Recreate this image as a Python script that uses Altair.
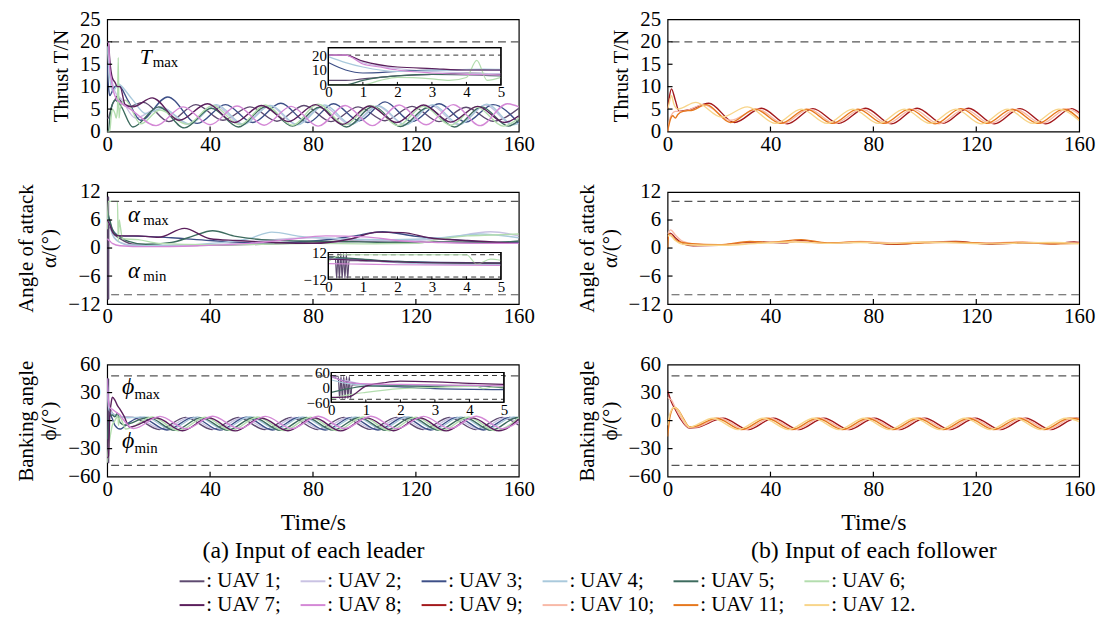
import altair as alt
import pandas as pd

FONT = "Liberation Serif, Times New Roman, Times, serif"
W, H = 415, 113

UAVS = [f"UAV {i}" for i in range(1, 13)]
COLORS = ["#5e4a70", "#c9c2e3", "#3d4f87", "#a9c9dc", "#3d6b5e", "#b3ddae",
          "#5b1f5c", "#d488d6", "#a3191c", "#f8b9a7", "#e6781e", "#f8d58a"]

# ---------------- Leaders: thrust T (N) ----------------
L_T1 = [(0,3),(0.5,3),(1,4),(2,6),(3,7),(4,8),(5,7),(8,5.5),(14,6.5),(24,2.2),(34.5,6),(45,2.5),(55.5,5.5),(66,2.3),(76.5,5.8),(87,2.2),(97.5,5.5),(108,2.4),(118.5,5.6),(129,2.2),(139.5,5.4),(150,2.3),(160,5.2)]
L_T2 = [(0,20),(0.5,20),(1,15),(2,11),(3,9),(4,8),(5,7.5),(11,3),(21,5.5),(31.5,1.6),(42,5.8),(52.5,1.5),(63,5.8),(73.5,1.6),(84,5.6),(94.5,1.5),(105,5.7),(115.5,1.6),(126,5.8),(136.5,1.5),(147,5.9),(157.5,1.6),(160,2.0)]
L_T3 = [(0,15),(0.5,10),(1,8),(2,9),(3,10),(4,10.2),(5,10),(8,7),(13,2.5),(23.5,7.7),(35,1.8),(46,6),(56.5,2),(67.5,6.3),(78,2),(88,6.2),(98,2.4),(108,6.6),(118.5,2.2),(129,6.2),(139.5,2.1),(150,6),(160,1.8)]
L_T4 = [(0,19),(0.5,15),(1,12),(2,9),(3,9.5),(4.5,10.6),(5,10.4),(10,7),(15,4),(21.5,5.2),(32,1.7),(42.5,6),(53,1.6),(63.5,5.8),(74,1.5),(84.5,5.9),(95,1.6),(105.5,5.7),(116,1.5),(126.5,6),(137,1.6),(147.5,6.1),(158,1.5),(160,1.8)]
L_T5 = [(0,0),(0.5,0),(1,3),(1.5,5),(2,6),(3,7),(5,6),(10,1),(20,5.5),(30,0.8),(40.5,5.2),(51,1),(61.5,5.5),(72,1.2),(82.5,5.4),(93,1),(103.5,5.6),(114,1.1),(124.5,5.3),(135,1),(145.5,5.5),(156,1.2),(160,2.5)]
L_T6 = [(0,0),(1,0),(1.5,3),(2,5),(3,4),(3.5,3),(4,5),(4.3,16.5),(4.6,3),(5,5),(7,7),(13,1.7),(20.5,4.8),(31,1.6),(41,5.8),(51.5,1.5),(61.5,5.9),(72,1.4),(82,6.1),(92.5,1.5),(102.5,5.8),(113,1.3),(123,5.6),(133.5,1.4),(143.5,5.5),(154,1.2),(160,3)]
L_T7 = [(0,20),(0.5,20),(1,16),(2,12),(3,11),(4,10),(5,10),(7,6),(10,5.5),(17.5,7.5),(28,2.5),(39,6.2),(49.5,2),(60,5.8),(70.5,2.2),(81,6),(91.5,1.6),(102,5.7),(112.5,2),(123,5.9),(133.5,2.1),(144,5.6),(154.5,2),(160,3.5)]
L_T8 = [(0,20),(0.5,20),(1,14),(1.5,12),(2,10),(3,8),(4,7),(5,6.5),(9,5),(19,1.3),(29.5,5.5),(40,1.5),(50.5,5.7),(61,1.4),(71.5,5.6),(82,1.2),(92.5,5.8),(103,1.3),(113.5,5.9),(124,1.5),(134.5,6),(145,1.3),(155.5,6.2),(160,5.5)]

# ---------------- Leaders: angle of attack (deg) ----------------
L_A1 = [(0,8),(0.2,8),(0.24,-11),(0.28,11),(0.32,-11),(0.36,11),(0.4,-11),(0.44,11),(0.48,-11),(0.52,11),(0.56,-11),(0.6,5),(1,4.5),(2,3.5),(3,2.8),(5,2),(10,0.8),(20,0.5),(40,0.6),(60,0.8),(80,1.2),(100,1.5),(120,1.3),(140,1.2),(160,1.1)]
L_A2 = [(0,6),(1,5),(2,3),(3,2),(5,1.2),(10,0.6),(25,0.5),(45,0.8),(65,1.8),(80,2.2),(95,1.8),(110,1.5),(130,2),(149,3.5),(160,2.6)]
L_A3 = [(0,7),(1,5.5),(2,4),(5,2.6),(15,2.5),(25,2.2),(40,1.6),(60,1.1),(80,1.5),(95,2.5),(107,3.5),(120,2.5),(135,1.8),(150,1.2),(160,1.3)]
L_A4 = [(0,6.5),(1,5),(2,3),(4,1.5),(5,1.2),(8,0.6),(25,0.6),(45,1.2),(55,2),(64,3.4),(75,2.5),(90,2),(110,1.8),(130,2.2),(145,3),(160,2.2)]
L_A5 = [(0,8),(1,6),(2,4),(3,3),(5,2.4),(8,1.5),(15,0.8),(25,1.2),(33,2.5),(41,3.7),(50,2.5),(60,1.8),(75,1.5),(90,1.4),(110,1.2),(130,1.3),(150,1.2),(160,1.5)]
L_A6 = [(0,4),(0.4,10),(4,10),(4.3,1.5),(4.7,6),(5,5),(6,2),(12,1.8),(20,1),(40,0.7),(60,0.8),(80,1),(100,0.9),(120,1),(130,2),(140,2.6),(150,2.8),(160,3)]
L_A7 = [(0,6),(1,5),(2,3.5),(3,2.8),(5,2.6),(12,2.6),(20,2.3),(30,4.2),(40,2),(50,1.6),(65,1.2),(80,1),(95,2),(105,3.4),(115,3.3),(125,2.2),(140,1.6),(160,1)]
L_A8 = [(0,2),(1,1.5),(2,1),(5,0.5),(15,0.3),(35,0.5),(55,1),(70,1.8),(85,2.6),(100,2.4),(115,1.5),(130,1.2),(150,1),(160,1)]

# ---------------- Leaders: banking angle (deg) ----------------
L_P1 = [(0,45),(0.2,45),(0.24,-45),(0.28,45),(0.32,-45),(0.36,45),(0.4,-45),(0.44,45),(0.48,-45),(0.52,45),(0.56,-45),(0.6,10),(1,12),(2,8),(3,6),(5,4),(10,3.5),(20.25,-9.5),(30.5,3.5),(40.75,-9.5),(51,3.3),(61.25,-9.6),(71.5,3.4),(81.75,-9.5),(92,3.5),(102.25,-9.4),(112.5,3.5),(122.75,-9.5),(133,3.4),(143.25,-9.5),(153.5,3.5),(160,-5)]
L_P2 = [(0,40),(0.5,25),(1,12),(2,8),(4,5),(5,4.5),(11.5,3.0),(21.75,-9.2),(32,3.2),(42.25,-9.4),(52.5,3.0),(62.75,-9.2),(73,3.3),(83.25,-9.3),(93.5,3.1),(103.75,-9.2),(114,3.2),(124.25,-9.4),(134.5,3.0),(144.75,-9.3),(155,3.2),(160,-3.3)]
L_P3 = [(0,45),(0.5,20),(1,10),(2,2),(3,-5),(5,-9),(8,-3),(13,3.5),(23.25,-10),(33.5,3.5),(43.75,-10.2),(54,3.6),(64.25,-10),(74.5,3.4),(84.75,-10.1),(95,3.5),(105.25,-10),(115.5,3.6),(125.75,-10.1),(136,3.5),(146.25,-10),(156.5,3.5),(160,0.4)]
L_P4 = [(0,30),(0.5,15),(1,10),(3,6),(5,4.5),(8,3),(14.5,4),(24.75,-9),(35,4),(45.25,-9.1),(55.5,4.1),(65.75,-9),(76,4),(86.25,-9.2),(96.5,4),(106.75,-9),(117,4.1),(127.25,-9.1),(137.5,4),(147.75,-9),(158,4),(160,2.8)]
L_P5 = [(0,-20),(0.5,-5),(1,5),(2,6),(3,4),(4,8),(5,-2),(7,-5),(9,-3),(16,3.5),(26.25,-10.5),(36.5,3.2),(46.75,-10.3),(57,3.4),(67.25,-10.4),(77.5,3.3),(87.75,-10.2),(98,3.4),(108.25,-10.4),(118.5,3.3),(128.75,-10.3),(139,3.4),(149.25,-10.4),(159.5,3.3),(160,3.2)]
L_P6 = [(0,-45),(0.5,-30),(1,-20),(2,-5),(3,0),(4.2,5),(4.4,-5),(4.7,2),(5,3),(7.25,-9),(17.5,3.8),(27.75,-10.8),(38,3.6),(48.25,-10.6),(58.5,3.8),(68.75,-10.7),(79,3.7),(89.25,-10.6),(99.5,3.8),(109.75,-10.8),(120,3.7),(130.25,-10.6),(140.5,3.8),(150.75,-10.7),(160,3.1)]
L_P7 = [(0,-40),(0.5,-38),(1,5),(1.5,18),(2,25),(3,22),(4,16),(5,12),(6.5,5),(8.75,-7),(19,3.0),(29.25,-10.8),(39.5,3.0),(49.75,-11),(60,2.8),(70.25,-10.9),(80.5,3.0),(90.75,-11),(101,2.9),(111.25,-10.8),(121.5,3.0),(131.75,-11),(142,2.9),(152.25,-10.9),(160,1.7)]
L_P8 = [(0,45),(0.5,20),(1,14),(2,12),(4,8),(5,6),(6,2),(10.25,-8.5),(20.5,4.5),(30.75,-8.7),(41,4.6),(51.25,-8.5),(61.5,4.5),(71.75,-8.6),(82,4.7),(92.25,-8.5),(102.5,4.6),(112.75,-8.6),(123,4.5),(133.25,-8.5),(143.5,4.6),(153.75,-8.6),(160,-0.9)]

# ---------------- Followers: thrust ----------------
F_T9 = [(0,5),(0.5,7),(1.5,9.5),(3,7),(4.5,4.5),(8,4.8),(16,6.3),(26,2),(36.5,5.2),(46.5,1.7),(56.5,5.1),(66.5,1.8),(77,5.2),(87,1.7),(97,5.2),(107,1.8),(117,5.2),(127,1.7),(137,5.1),(147,1.7),(157,5.1),(160,4.2)]
F_T10 = [(0,0),(1,3),(3,4.5),(6,4.5),(14,6),(24.5,2.5),(35,5),(45,1.8),(55,5),(65,1.8),(75.5,5),(85.5,1.8),(95.5,5),(105.5,1.7),(115.5,5),(125.5,1.8),(135.5,4.9),(145.5,1.8),(155.5,5.1),(160,3.8)]
F_T11 = [(0,0),(1,2.5),(2,3.5),(3,3),(4,3.8),(6,4.5),(10,4.8),(15,6),(24.5,2),(34,5),(44,1.8),(54,5),(64,1.8),(74,5),(84,1.8),(94,5),(104,1.7),(114,5.1),(124,1.8),(134,5),(144,1.8),(154,5),(160,2.8)]
F_T12 = [(0,5),(0.5,6),(1.5,8),(2.5,6),(4,5),(11,6.5),(21,3.2),(31,5.5),(42,1.8),(52,5),(62,1.8),(72,5),(82,1.8),(92,5),(102,1.8),(112,5),(122,1.7),(132,5),(142,1.8),(152,5),(160,2.4)]

# ---------------- Followers: angle of attack ----------------
F_A9 = [(0,2),(1,3.2),(3,2.2),(6,0.9),(10,0.5),(20,0.6),(35,1.3),(45,1.1),(52,1.6),(62,1),(75,1.3),(88,0.8),(100,1.2),(112,1.4),(125,0.8),(138,1.1),(150,0.9),(158,1.3),(160,1.2)]
F_A10 = [(0,3),(1.2,3.9),(3,2.8),(6,1.4),(10,0.9),(20,0.7),(35,1.1),(50,1.4),(62,1),(75,1.4),(88,1.1),(100,1.3),(112,1.2),(125,1.1),(138,1.3),(150,1),(160,1.1)]
F_A11 = [(0,0),(0.5,3),(1.5,2.6),(4,1.4),(8,1),(20,0.7),(32,1.4),(40,1.2),(52,1.8),(62,1.1),(75,1.3),(88,0.9),(100,1.1),(112,1.3),(125,1),(138,1.2),(150,0.9),(160,1)]
F_A12 = [(0,2.5),(1,2.8),(3,1.6),(6,0.8),(12,0.6),(22,0.6),(35,1),(50,1.3),(62,1),(75,1.2),(88,1),(100,1.3),(112,1.1),(125,0.9),(138,1.1),(150,1.2),(160,0.9)]

# ---------------- Followers: banking angle ----------------
F_P9 = [(0,32),(0.7,26),(1.5,20),(3,12),(5,2),(8.5,-8),(11,-7.5),(21.6,2.5),(31.4,-9.6),(41.2,2.5),(51,-9.6),(60.8,2.5),(70.6,-9.6),(80.4,2.5),(90.2,-9.6),(100,2.5),(109.8,-9.6),(119.6,2.5),(129.4,-9.6),(139.2,2.5),(149,-9.6),(158.8,2.5),(160,2.3)]
F_P10 = [(0,25),(0.5,24),(1.5,22),(3,14),(5,4),(8.5,-7.5),(11,-7),(20.3,2.5),(30.1,-9.6),(39.9,2.5),(49.7,-9.6),(59.5,2.5),(69.3,-9.6),(79.1,2.5),(88.9,-9.6),(98.7,2.5),(108.5,-9.6),(118.3,2.5),(128.1,-9.6),(137.9,2.5),(147.7,-9.6),(157.5,2.5),(160,2)]
F_P11 = [(0,-17),(1,5),(2.5,14),(4,12),(6,3),(8.5,-6.5),(10,-6.5),(19,2.5),(28.8,-9.6),(38.6,2.5),(48.4,-9.6),(58.2,2.5),(68,-9.6),(77.8,2.5),(87.6,-9.6),(97.4,2.5),(107.2,-9.6),(117,2.5),(126.8,-9.6),(136.6,2.5),(146.4,-9.6),(156.2,2.5),(160,1.5)]
F_P12 = [(0,-5),(1,8),(2.5,14),(4,12),(6,2),(8.5,-7),(10,-6),(17.6,2.5),(27.4,-9.6),(37.2,2.5),(47,-9.6),(56.8,2.5),(66.6,-9.6),(76.4,2.5),(86.2,-9.6),(96,2.5),(105.8,-9.6),(115.6,2.5),(125.4,-9.6),(135.2,2.5),(145,-9.6),(154.8,2.5),(160,-1)]

X_TICKS = [0, 40, 80, 120, 160]
T_TICKS = [0, 5, 10, 15, 20, 25]
A_TICKS = [-12, -6, 0, 6, 12]
P_TICKS = [-60, -30, 0, 30, 60]
T_LIMITS = [20]
A_LIMITS = [-10, 10]
P_LIMITS = [-48, 48]


def to_df(series):
    recs = []
    for name, pts in series:
        for t, v in pts:
            recs.append({"uav": name, "t": t, "v": v})
    return pd.DataFrame(recs)


leaders_T = to_df(zip(UAVS[:8], [L_T1, L_T2, L_T3, L_T4, L_T5, L_T6, L_T7, L_T8]))
leaders_A = to_df(zip(UAVS[:8], [L_A1, L_A2, L_A3, L_A4, L_A5, L_A6, L_A7, L_A8]))
leaders_P = to_df(zip(UAVS[:8], [L_P1, L_P2, L_P3, L_P4, L_P5, L_P6, L_P7, L_P8]))
follow_T = to_df(zip(UAVS[8:], [F_T9, F_T10, F_T11, F_T12]))
follow_A = to_df(zip(UAVS[8:], [F_A9, F_A10, F_A11, F_A12]))
follow_P = to_df(zip(UAVS[8:], [F_P9, F_P10, F_P11, F_P12]))

LEG = alt.Legend(orient="none", legendX=72, legendY=553, columns=6, direction="horizontal",
                 symbolType="stroke", symbolSize=625, symbolStrokeWidth=2,
                 labelFont=FONT, labelFontSize=21, labelColor="black", labelOffset=1, labelLimit=300,
                 columnPadding=15, rowPadding=0, gridAlign="none", title=None,
                 labelExpr="': ' + datum.label + (datum.label == 'UAV 12' ? '.' : ';')")
COLOR = alt.Color("uav:N", scale=alt.Scale(domain=UAVS, range=COLORS), legend=LEG)


def inset_layer(df, x0, x1, yb, yt, dom, yvals, lims):
    sub = df[df["t"] <= 5].rename(columns={"t": "ti", "v": "vi"})
    xi = alt.X("ti:Q", scale=alt.Scale(domain=[0, 5], range=[x0, x1], nice=False, zero=False),
               axis=alt.Axis(orient="bottom", offset=yb - H, values=[0, 1, 2, 3, 4, 5], title=None,
                             labelFontSize=15, labelPadding=0, labelFlush=False, ticks=False,
                             domain=False, grid=False))
    yi = alt.Y("vi:Q", scale=alt.Scale(domain=dom, range=[yb, yt], nice=False, zero=False),
               axis=alt.Axis(orient="left", offset=-x0, values=yvals, title=None, labelFontSize=15,
                             labelPadding=2, ticks=False, domain=False, grid=False))
    box = pd.DataFrame({"ti": [0], "ti2": [5], "vi": [dom[0]], "vi2": [dom[1]]})
    frame = alt.Chart(box).mark_rect(fill="white", stroke="black", strokeWidth=1.2).encode(
        x=xi, x2="ti2:Q", y=yi, y2="vi2:Q")
    dash = alt.Chart(pd.DataFrame({"vi": lims, "ti": [0] * len(lims), "ti2": [5] * len(lims)})).mark_rule(
        strokeDash=[5, 4], color="#333", strokeWidth=1).encode(x=xi, x2="ti2:Q", y=yi)
    lines = alt.Chart(sub).mark_line(strokeWidth=1.2, interpolate="monotone").encode(
        x=xi, y=yi, color=COLOR)
    xt = alt.Chart(pd.DataFrame({"ti": [1, 2, 3, 4]})).mark_rule(color="black", strokeWidth=1).encode(
        x=xi, y=alt.value(yb), y2=alt.value(yb - 3))
    border = alt.Chart(box).mark_rect(fill=None, stroke="black", strokeWidth=1.2).encode(
        x=xi, x2="ti2:Q", y=yi, y2="vi2:Q")
    return alt.layer(frame, dash, lines, xt, border)


def panel(df, dom, yvals, ytitle, limits, xtitle=None, inset=None, annots=None):
    xax = alt.Axis(values=X_TICKS, title=xtitle, labelFlush=False, labelPadding=2,
                   titlePadding=11, titleLineHeight=29, titleFontSize=24)
    yax = alt.Axis(values=yvals, title=ytitle, labelPadding=7, titlePadding=8, titleLineHeight=23)
    x = alt.X("t:Q", scale=alt.Scale(domain=[0, 160], nice=False, zero=False), axis=xax)
    y = alt.Y("v:Q", scale=alt.Scale(domain=dom, nice=False, zero=False), axis=yax)
    layers = [
        alt.Chart(df).mark_line(strokeWidth=1.4, interpolate="monotone", clip=True).encode(
            x=x, y=y, color=COLOR),
        alt.Chart(pd.DataFrame({"v": limits})).mark_rule(
            strokeDash=[8, 5], color="#555", strokeWidth=1.2).encode(y=y),
        alt.Chart(pd.DataFrame({"t": X_TICKS[1:-1]})).mark_rule(color="black", strokeWidth=1.2).encode(
            x=x, y=alt.value(H), y2=alt.value(H - 5)),
        alt.Chart(pd.DataFrame({"v": yvals[1:-1]})).mark_rule(color="black", strokeWidth=1.2).encode(
            y=y, x=alt.value(0), x2=alt.value(5)),
    ]
    if annots:
        for ts, vs, s, size, italic in annots:
            d = pd.DataFrame({"t": ts, "v": vs, "s": s})
            layers.append(alt.Chart(d).mark_text(
                font=FONT, fontSize=size, fontStyle="italic" if italic else "normal",
                align="left", baseline="alphabetic", color="black").encode(x=x, y=y, text="s:N"))
    ch = alt.layer(*layers)
    if inset is not None:
        ch = alt.layer(ch, inset).resolve_scale(x="independent", y="independent")
    return ch.properties(width=W, height=H)


ANN_T = [([12.7], [15.0], ["T"], 22, True), ([17.7], [14.4], ["max"], 15, False)]
ANN_A = [([8.1, 8.1], [5.6, -6.5], ["α", "α"], 23, True),
         ([14.0, 14.0], [5.0, -7.1], ["max", "min"], 15, False)]
ANN_P = [([5.8, 5.8], [28.1, -29.2], ["ϕ", "ϕ"], 24, True),
         ([10.6, 10.6], [22.8, -34.5], ["max", "min"], 15, False)]

p1 = panel(leaders_T, [0, 25], T_TICKS, "Thrust T/N", T_LIMITS, annots=ANN_T,
           inset=inset_layer(leaders_T, 223, 397, 66, 28.5, [0, 25], [0, 10, 20], [20]))
p2 = panel(leaders_A, [-12, 12], A_TICKS, ["Angle of attack", "α/(°)"], A_LIMITS, annots=ANN_A,
           inset=inset_layer(leaders_A, 223, 397, 88, 61, [-12, 12], [-12, 0, 12], [-10, 10]))
p3 = panel(leaders_P, [-60, 60], P_TICKS, ["Banking angle", "ϕ/(°)"], P_LIMITS, annots=ANN_P,
           xtitle=["Time/s", "(a) Input of each leader"],
           inset=inset_layer(leaders_P, 226, 400, 38, 8, [-60, 60], [-60, 0, 60], [-48, 48]))
q1 = panel(follow_T, [0, 25], T_TICKS, "Thrust T/N", T_LIMITS)
q2 = panel(follow_A, [-12, 12], A_TICKS, ["Angle of attack", "α/(°)"], A_LIMITS)
q3 = panel(follow_P, [-60, 60], P_TICKS, ["Banking angle", "ϕ/(°)"], P_LIMITS,
           xtitle=["Time/s", "(b) Input of each follower"])

chart = alt.concat(p1, q1, p2, q2, p3, q3, columns=2,
                   spacing=alt.RowColnumber(row=61, column=150), bounds="flush").properties(
    padding={"left": 7, "top": -3, "right": 5, "bottom": 0}
).configure(
    font=FONT, background="white"
).configure_view(stroke="black", strokeWidth=1.2).configure_axis(
    labelFont=FONT, titleFont=FONT, labelFontSize=21, titleFontSize=21, titleFontWeight="normal",
    labelColor="black", titleColor="black", domain=False, ticks=False, tickSize=0, grid=False
).configure_legend(labelFont=FONT)

chart.save("out.html", embed_options={"renderer": "svg", "actions": False})
